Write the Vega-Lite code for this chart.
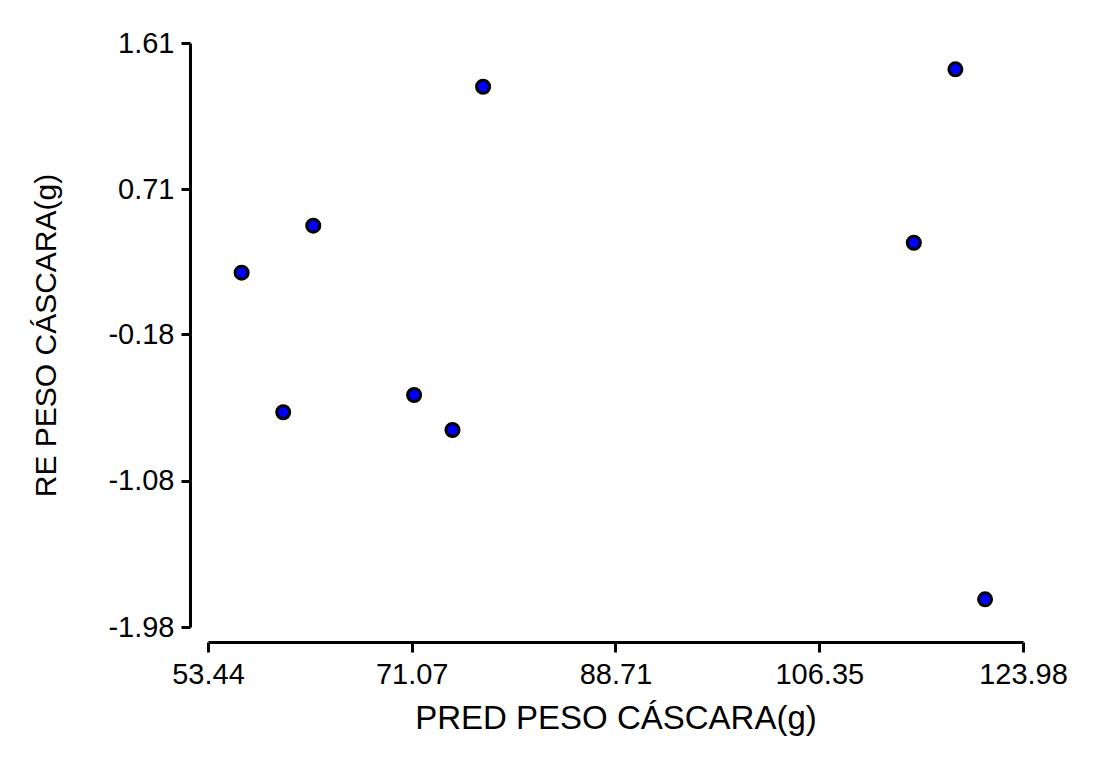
{
  "$schema": "https://vega.github.io/schema/vega-lite/v6.json",
  "autosize": {"type": "none"},
  "width": 815,
  "height": 584,
  "padding": {"left": 208, "top": 43, "right": 79, "bottom": 140},
  "background": "white",
  "config": {
    "view": {"stroke": null},
    "font": "Liberation Sans",
    "axis": {
      "grid": false,
      "domainColor": "black",
      "domainWidth": 3,
      "tickColor": "black",
      "tickWidth": 3,
      "labelColor": "black",
      "titleColor": "black",
      "labelFont": "Liberation Sans",
      "titleFont": "Liberation Sans",
      "titleFontWeight": "normal"
    }
  },
  "data": {
    "values": [
      {"pred": 56.35, "re": 0.198},
      {"pred": 59.95, "re": -0.660},
      {"pred": 62.55, "re": 0.487},
      {"pred": 71.28, "re": -0.554},
      {"pred": 74.60, "re": -0.769},
      {"pred": 77.25, "re": 1.341},
      {"pred": 114.53, "re": 0.382},
      {"pred": 118.13, "re": 1.448},
      {"pred": 120.70, "re": -1.810}
    ]
  },
  "mark": {
    "type": "point",
    "shape": "circle",
    "filled": true,
    "fill": "#0000ff",
    "stroke": "black",
    "strokeWidth": 3,
    "size": 170,
    "opacity": 1
  },
  "encoding": {
    "x": {
      "field": "pred",
      "type": "quantitative",
      "title": "PRED PESO CÁSCARA(g)",
      "scale": {"domain": [53.44, 123.98], "nice": false, "zero": false},
      "axis": {
        "values": [53.44, 71.07, 88.71, 106.35, 123.98],
        "format": ".2f",
        "offset": 15,
        "tickSize": 10,
        "labelPadding": 8,
        "labelFontSize": 29,
        "labelFlush": false,
        "labelOverlap": false,
        "titleFontSize": 33,
        "titlePadding": 13
      }
    },
    "y": {
      "field": "re",
      "type": "quantitative",
      "title": "RE PESO CÁSCARA(g)",
      "scale": {"domain": [-1.98, 1.61], "nice": false, "zero": false},
      "axis": {
        "values": [-1.98, -1.08, -0.18, 0.71, 1.61],
        "format": ".2f",
        "labelExpr": "replace(datum.label, '−', '-')",
        "offset": 18,
        "tickSize": 9,
        "labelPadding": 7,
        "labelFontSize": 29,
        "labelFlush": false,
        "labelOverlap": false,
        "titleFontSize": 30,
        "titlePadding": 46
      }
    }
  }
}
